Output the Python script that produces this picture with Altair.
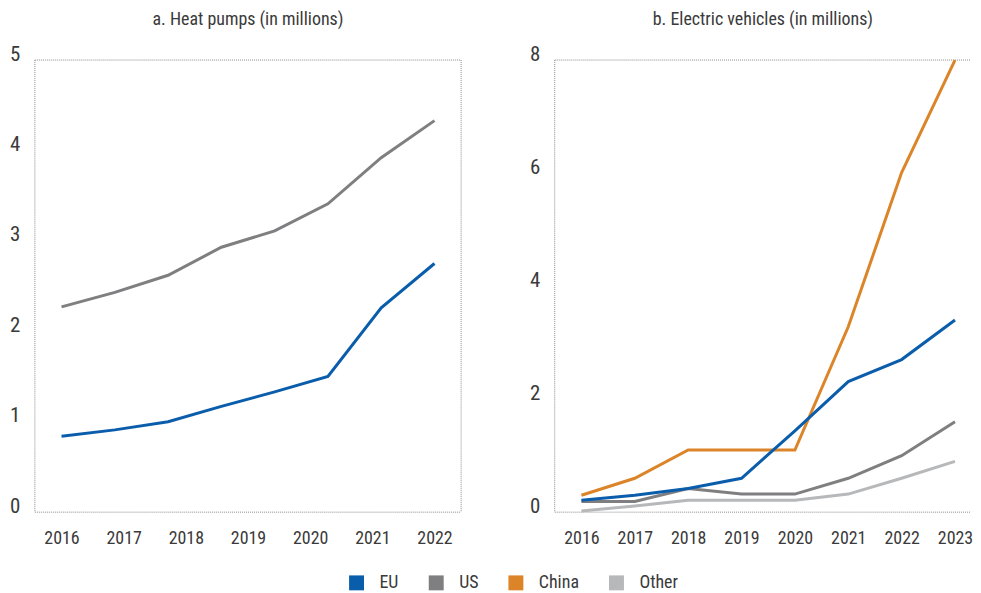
import altair as alt
import pandas as pd

# ---------------- data ----------------
# Panel a: heat pumps (in millions) - 8 points drawn under 7 year labels
HP_INDEX = [0, 1, 2, 3, 4, 5, 6, 7]
HP_EU = [0.84, 0.91, 1.00, 1.17, 1.33, 1.50, 2.26, 2.75]
HP_US = [2.27, 2.43, 2.62, 2.93, 3.11, 3.41, 3.92, 4.33]
HP_YEAR_LABELS = ["2016", "2017", "2018", "2019", "2020", "2021", "2022"]

# Panel b: electric vehicles (in millions)
EV_YEARS = [2016, 2017, 2018, 2019, 2020, 2021, 2022, 2023]
EV_EU = [0.21, 0.30, 0.42, 0.60, 1.44, 2.31, 2.70, 3.40]
EV_US = [0.19, 0.19, 0.42, 0.32, 0.32, 0.60, 1.00, 1.60]
EV_CHINA = [0.30, 0.60, 1.10, 1.10, 1.10, 3.28, 6.01, 8.00]
EV_OTHER = [0.02, 0.11, 0.21, 0.21, 0.21, 0.32, 0.60, 0.90]

SERIES = ["EU", "US", "China", "Other"]
COLORS = ["#0a5dab", "#7f7f81", "#dc8428", "#b7b8ba"]

FONT = "Liberation Sans Narrow, Roboto Condensed, Roboto, sans-serif"
FS = 18
FS_Y = 21
TXT = "#3a3a3a"
FRAME = "#8a8a8a"

W_A, W_B, H = 428, 418, 454

# ---------------- tables ----------------
hp_rows = []
for name, vals in [("US", HP_US), ("EU", HP_EU)]:
    for i, v in zip(HP_INDEX, vals):
        hp_rows.append({"idx": i, "value": v, "series": name})
hp = pd.DataFrame(hp_rows)

ev_rows = []
for name, vals in [("Other", EV_OTHER), ("US", EV_US), ("China", EV_CHINA), ("EU", EV_EU)]:
    for y, v in zip(EV_YEARS, vals):
        ev_rows.append({"year": y, "value": v, "series": name})
ev = pd.DataFrame(ev_rows)

n_pts = len(HP_INDEX)
n_lab = len(HP_YEAR_LABELS)
hp_tick_pos = [i * (n_pts - 1) / (n_lab - 1) for i in range(n_lab)]
label_arr = "[" + ",".join("'%s'" % s for s in HP_YEAR_LABELS) + "]"
hp_label_expr = "%s[round(datum.value * %d / %d)]" % (label_arr, n_lab - 1, n_pts - 1)

color_scale = alt.Scale(domain=SERIES, range=COLORS)
legend = alt.Legend(
    orient="none", legendX=314, legendY=516, direction="horizontal", title=None,
    symbolType="square", symbolSize=1, symbolStrokeWidth=14, symbolOpacity=1,
    labelFont=FONT, labelFontSize=FS, labelColor=TXT, labelOffset=14,
    columnPadding=8, padding=0, gridAlign="none",
)

one = alt.Data(values=[{"k": 0}])


def frame(width, right=True):
    parts = [
        alt.Chart(one).mark_rule(color=FRAME, strokeWidth=1, strokeDash=[1, 1]).encode(
            x=alt.value(0), x2=alt.value(width), y=alt.value(0)),
        alt.Chart(one).mark_rule(color=FRAME, strokeWidth=1, strokeDash=[1, 1]).encode(
            x=alt.value(0), x2=alt.value(width), y=alt.value(H)),
        alt.Chart(one).mark_rule(color=FRAME, strokeWidth=1, strokeDash=[1, 1]).encode(
            x=alt.value(0), y=alt.value(0), y2=alt.value(H)),
    ]
    if right:
        parts.append(
            alt.Chart(one).mark_rule(color=FRAME, strokeWidth=1, strokeDash=[1, 1]).encode(
                x=alt.value(width), y=alt.value(0), y2=alt.value(H)))
    return parts


def ttl(text):
    return alt.TitleParams(text=text, font=FONT, fontSize=FS, fontWeight="normal",
                           color=TXT, anchor="middle", offset=14)


lines_a = alt.Chart(hp).mark_line(strokeWidth=3).encode(
    x=alt.X("idx:Q", scale=alt.Scale(domain=[-0.5, 7.5], nice=False, zero=False),
            axis=alt.Axis(values=hp_tick_pos, labelExpr=hp_label_expr, title=None,
                          labelPadding=17)),
    y=alt.Y("value:Q", scale=alt.Scale(domain=[0, 5], nice=False),
            axis=alt.Axis(values=[0, 1, 2, 3, 4, 5], title=None, labelOffset=-6,
                          labelFontSize=FS_Y, labelPadding=15, minExtent=27, maxExtent=27)),
    color=alt.Color("series:N", scale=color_scale, legend=legend),
)
panel_a = alt.layer(*frame(W_A, True), lines_a).properties(
    width=W_A, height=H, title=ttl("a. Heat pumps (in millions)"))

lines_b = alt.Chart(ev).mark_line(strokeWidth=3).encode(
    x=alt.X("year:Q", scale=alt.Scale(domain=[2015.5, 2023.3], nice=False, zero=False),
            axis=alt.Axis(values=EV_YEARS, format="d", title=None, labelPadding=17)),
    y=alt.Y("value:Q", scale=alt.Scale(domain=[0, 8], nice=False),
            axis=alt.Axis(values=[0, 2, 4, 6, 8], title=None, labelOffset=-6,
                          labelFontSize=FS_Y, labelPadding=15, minExtent=25, maxExtent=25)),
    color=alt.Color("series:N", scale=color_scale, legend=legend),
)
panel_b = alt.layer(*frame(W_B, False), lines_b).properties(
    width=W_B, height=H, title=ttl("b. Electric vehicles (in millions)"))

chart = alt.hconcat(panel_a, panel_b, spacing=67).properties(
    padding={"left": 0, "top": 2, "right": 0, "bottom": 0}
).configure_axis(
    labelFont=FONT, labelFontSize=FS, labelColor=TXT, domain=False, ticks=False, grid=False,
).configure_view(stroke=None)

chart.save("out.html", embed_options={"renderer": "svg", "actions": False})
